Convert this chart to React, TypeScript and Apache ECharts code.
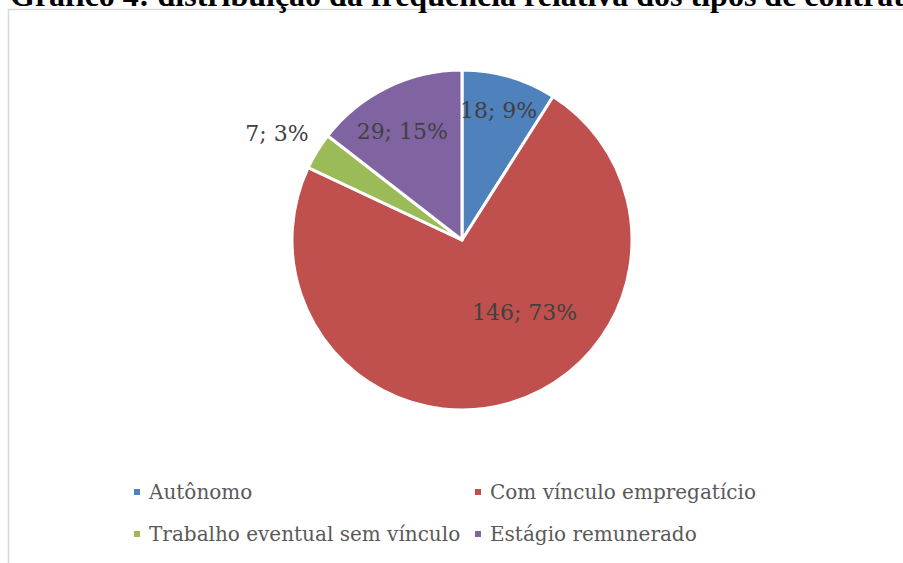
import React, { useEffect, useRef } from "react";
import * as echarts from "echarts";

const titleText = "Gráfico 4: distribuição da frequência relativa dos tipos de contratação";
const categories = ["Autônomo", "Com vínculo empregatício", "Trabalho eventual sem vínculo", "Estágio remunerado"];
const values = [18, 146, 7, 29];
const percentLabels = ["9%", "73%", "3%", "15%"];
const colors = ["#4F81BD", "#C0504D", "#9BBB59", "#8064A2"];
const legendCol1 = ["Autônomo", "Trabalho eventual sem vínculo"];
const legendCol2 = ["Com vínculo empregatício", "Estágio remunerado"];
// label offsets from the 'inside' position (styling only)
const labelDx = [12, 38, -110, -21];
const labelDy = [-45, -12, -61, -29];

export default function App() {
  const ref = useRef<HTMLDivElement>(null);
  useEffect(() => {
    if (!ref.current) return;
    const chart = echarts.init(ref.current, null, { renderer: "svg" });
    const legendCommon = {
      orient: "vertical" as const,
      icon: "rect",
      itemWidth: 8,
      itemHeight: 8,
      itemGap: 18,
      padding: 0,
      selectedMode: false,
      textStyle: {
        fontFamily: "DejaVu Serif",
        fontSize: 20,
        color: "#595959",
        lineHeight: 24,
        padding: [0, 0, 0, 3],
      },
    };
    chart.setOption({
      animation: false,
      backgroundColor: "#ffffff",
      graphic: [
        {
          type: "rect",
          shape: { x: 8.5, y: 9.5, width: 1000, height: 700 },
          style: { fill: "none", stroke: "#d9d9d9", lineWidth: 1.5 },
          silent: true,
        },
        {
          type: "text",
          x: 10,
          y: 11,
          style: {
            text: titleText,
            fontFamily: "Liberation Serif",
            fontWeight: "bold",
            fontSize: 32,
            fill: "#000000",
            verticalAlign: "bottom",
          },
          silent: true,
        },
      ],
      legend: [
        { ...legendCommon, data: legendCol1, left: 132, top: 480 },
        { ...legendCommon, data: legendCol2, left: 473, top: 480 },
      ],
      series: [
        {
          type: "pie",
          center: [462, 240],
          radius: 170,
          startAngle: 90,
          clockwise: true,
          silent: true,
          color: colors,
          itemStyle: { borderColor: "#ffffff", borderWidth: 3 },
          label: {
            show: true,
            position: "inside",
            fontFamily: "DejaVu Serif",
            fontSize: 22,
            color: "#404040",
            formatter: (p: any) => `${values[p.dataIndex]}; ${percentLabels[p.dataIndex]}`,
          },
          labelLine: { show: false },
          labelLayout: (p: any) => ({ dx: labelDx[p.dataIndex], dy: labelDy[p.dataIndex] }),
          data: categories.map((name, i) => ({ name, value: values[i] })),
        },
      ],
    });
    return () => chart.dispose();
  }, []);
  return <div ref={ref} style={{ position: "fixed", left: 0, top: 0, width: 903, height: 563 }} />;
}
